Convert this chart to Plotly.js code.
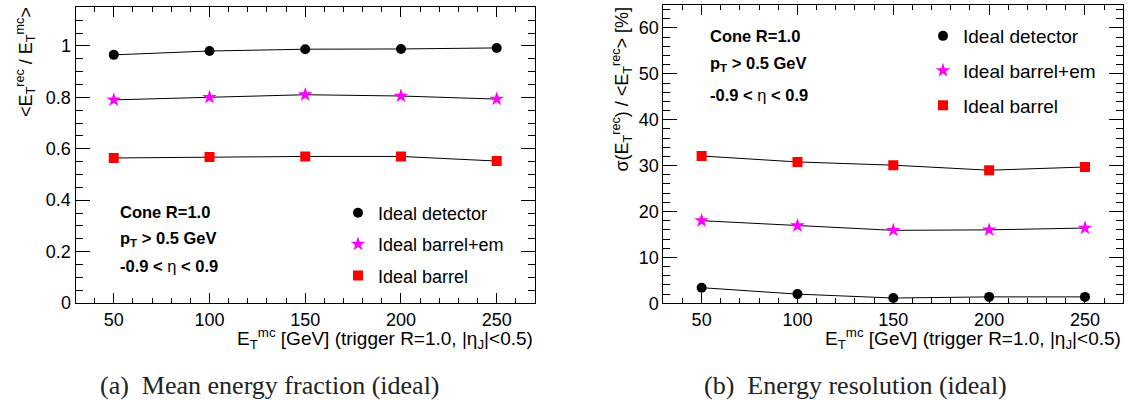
<!DOCTYPE html>
<html>
<head>
<meta charset="utf-8">
<script src="https://cdn.plot.ly/plotly-3.0.1.min.js"></script>
<style>html,body{margin:0;padding:0;background:#fff;}#chart{width:1128px;height:406px;}</style>
</head>
<body>
<div id="chart"></div>
<script>
// ---- data ----
const energies = [50, 100, 150, 200, 250];
const seriesNames = ["Ideal detector", "Ideal barrel+em", "Ideal barrel"];
const fracDetector = [0.965, 0.980, 0.987, 0.988, 0.992];
const fracBarrelEm = [0.790, 0.800, 0.810, 0.805, 0.793];
const fracBarrel   = [0.564, 0.568, 0.570, 0.570, 0.552];
const resDetector = [3.4, 2.0, 1.15, 1.4, 1.4];
const resBarrelEm = [18.0, 16.9, 15.9, 16.0, 16.4];
const resBarrel   = [32.1, 30.8, 30.1, 29.0, 29.7];
const xTickVals = [50, 100, 150, 200, 250];

const W = 1128, H = 406;
const FONT = "Liberation Sans, Arial, Helvetica, sans-serif";
const SERIF = "Liberation Serif, Times New Roman, serif";
const styles = [
  {symbol: "circle", color: "#000000", size: 10},
  {symbol: "star", color: "#ff00ff", size: 11},
  {symbol: "square", color: "#ff0000", size: 10}
];

function px(x){ return x / W; }
function py(y){ return (H - y) / H; }

const traces = [];
function addSeries(vals, idx, xa, ya){
  traces.push({x: energies, y: vals, xaxis: xa, yaxis: ya, mode: "lines",
    line: {color: "#000", width: 1}, showlegend: false, hoverinfo: "skip"});
}
function addMarkers(vals, idx, xa, ya, leg){
  const s = styles[idx];
  traces.push({x: energies, y: vals, xaxis: xa, yaxis: ya, mode: "markers",
    name: seriesNames[idx], legend: leg, legendgroup: leg + idx,
    marker: {symbol: s.symbol, color: s.color, size: s.size, line: {width: 0}}});
}
const left = [fracDetector, fracBarrelEm, fracBarrel];
const right = [resDetector, resBarrelEm, resBarrel];
left.forEach((v, i) => addSeries(v, i, "x", "y"));
right.forEach((v, i) => addSeries(v, i, "x2", "y2"));
left.forEach((v, i) => addMarkers(v, i, "x", "y", "legend"));
right.forEach((v, i) => addMarkers(v, i, "x2", "y2", "legend2"));

function xaxisCfg(domain){
  return {domain: domain, range: [30, 270], tickvals: xTickVals, ticks: "inside", ticklen: 10,
    tickwidth: 1, tickcolor: "#000", showline: true, linecolor: "#000", linewidth: 1,
    mirror: "ticks", showgrid: false, zeroline: false, fixedrange: true,
    tickfont: {family: FONT, size: 18, color: "#000"},
    minor: {dtick: 10, ticks: "inside", ticklen: 5, tickcolor: "#000", tickwidth: 1, showgrid: false}};
}
function yaxisCfg(domain, range, dtick, mdtick, anchor){
  return {domain: domain, range: range, dtick: dtick, tick0: 0, anchor: anchor, ticks: "inside",
    ticklen: 14, tickwidth: 1, tickcolor: "#000", showline: true, linecolor: "#000", linewidth: 1,
    mirror: "ticks", showgrid: false, zeroline: false, fixedrange: true,
    tickfont: {family: FONT, size: 18, color: "#000"},
    minor: {dtick: mdtick, ticks: "inside", ticklen: 7, tickcolor: "#000", tickwidth: 1, showgrid: false}};
}

const xTitle = "E<sub>T</sub><sup>mc</sup> [GeV] (trigger R=1.0, |η<sub>J</sub>|&lt;0.5)";
const annotations = [];
function ann(text, x, y, opts){
  annotations.push(Object.assign({text: text, xref: "paper", yref: "paper", x: px(x), y: py(y),
    showarrow: false, xanchor: "left", yanchor: "middle",
    font: {family: FONT, size: 19, color: "#000"}}, opts || {}));
}
// x titles
ann(xTitle, 535, 338, {xanchor: "right"});
ann(xTitle, 1123, 338, {xanchor: "right"});
// y titles
const yfont = {family: FONT, size: 18, color: "#000"};
ann("&lt;E<sub>T</sub><sup>rec</sup> / E<sub>T</sub><sup>mc</sup>&gt;", 25, 5, {textangle: -90, xanchor: "center", yanchor: "top", font: yfont});
ann("σ(E<sub>T</sub><sup>rec</sup>) / &lt;E<sub>T</sub><sup>rec</sup>&gt; [%]", 622, 5, {textangle: -90, xanchor: "center", yanchor: "top", font: yfont});
// cut labels
const cutLines = ["<b>Cone R=1.0</b>", "<b>p<sub>T</sub> &gt; 0.5 GeV</b>", "<b>-0.9 &lt; </b>η<b> &lt; 0.9</b>"];
const bfont = {family: FONT, size: 16.5, color: "#000"};
[212, 239, 266].forEach((y, i) => ann(cutLines[i], 118, y, {font: bfont}));
[36, 64, 95].forEach((y, i) => ann(cutLines[i], 708, y, {font: bfont}));
// captions
const cfont = {family: SERIF, size: 26, color: "#222"};
ann("(a)  Mean energy fraction (ideal)", 98, 385, {font: cfont});
ann("(b)  Energy resolution (ideal)", 702, 385, {font: cfont});

const layout = {
  width: W, height: H, margin: {l: 0, r: 0, t: 0, b: 0},
  paper_bgcolor: "#fff", plot_bgcolor: "#fff",
  xaxis: xaxisCfg([px(75.5), px(535)]),
  yaxis: yaxisCfg([py(303), py(7.3)], [0, 1.15], 0.2, 0.05, "x"),
  xaxis2: Object.assign(xaxisCfg([px(663.3), px(1123.3)]), {anchor: "y2"}),
  yaxis2: yaxisCfg([py(303.3), py(5)], [0, 65], 10, 2, "x2"),
  legend: {x: px(338), y: py(194.5), xanchor: "left", yanchor: "top", bgcolor: "rgba(0,0,0,0)",
    font: {family: FONT, size: 18, color: "#000"}, traceorder: "grouped", tracegroupgap: 5},
  legend2: {x: px(923), y: py(17), xanchor: "left", yanchor: "top", bgcolor: "rgba(0,0,0,0)",
    font: {family: FONT, size: 19, color: "#000"}, traceorder: "grouped", tracegroupgap: 7},
  annotations: annotations,
  showlegend: true
};
Plotly.newPlot("chart", traces, layout, {displayModeBar: false, staticPlot: true});
</script>
</body>
</html>
